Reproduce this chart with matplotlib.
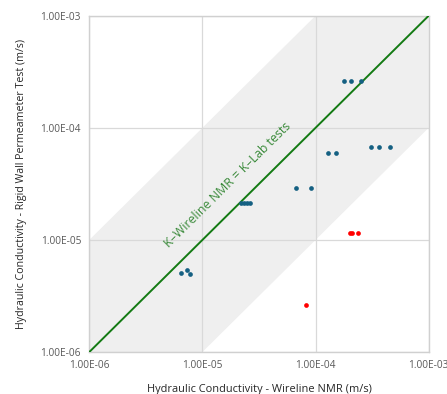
import matplotlib
matplotlib.use("Agg")
import matplotlib.pyplot as plt
from matplotlib.patches import Polygon

plt.rcParams['font.family'] = ['Open Sans', 'DejaVu Sans']

# Data (m/s)
blue_x = [1.79e-4, 2.05e-4, 2.51e-4,
          3.08e-4, 3.64e-4, 4.56e-4,
          1.29e-4, 1.51e-4,
          6.68e-5, 9.08e-5,
          2.19e-5, 2.33e-5, 2.48e-5, 2.64e-5,
          6.4e-6, 7.35e-6, 7.76e-6]
blue_y = [2.63e-4, 2.63e-4, 2.63e-4,
          6.78e-5, 6.78e-5, 6.78e-5,
          5.92e-5, 5.92e-5,
          2.92e-5, 2.92e-5,
          2.15e-5, 2.15e-5, 2.15e-5, 2.15e-5,
          5.07e-6, 5.42e-6, 5.0e-6]
red_x = [2.0e-4, 2.08e-4, 2.38e-4, 8.2e-5]
red_y = [1.15e-5, 1.15e-5, 1.15e-5, 2.62e-6]

ticks = [1e-6, 1e-5, 1e-4, 1e-3]
tick_labels = ["1.00E-06", "1.00E-05", "1.00E-04", "1.00E-03"]
one_to_one = [1e-6, 1e-3]
band_factor = 10.0

fig = plt.figure(figsize=(4.47, 3.94), dpi=100)
ax = fig.add_axes([0.1998, 0.1066, 0.7592, 0.8535])
ax.set_xscale('log')
ax.set_yscale('log')
ax.set_xlim(1e-6, 1e-3)
ax.set_ylim(1e-6, 1e-3)

lo, hi = one_to_one
band = Polygon([(lo, lo * band_factor), (hi / band_factor, hi), (hi, hi),
                (hi, hi / band_factor), (lo * band_factor, lo), (lo, lo)],
               closed=True, facecolor='#EFEFEF', edgecolor='none', zorder=0)
ax.add_patch(band)

ax.set_xticks(ticks)
ax.set_xticklabels(tick_labels)
ax.set_yticks(ticks)
ax.set_yticklabels(tick_labels)
ax.minorticks_off()
ax.tick_params(axis='both', length=0, labelsize=7.3, colors='#595959', pad=6)
ax.grid(True, color='#D9D9D9', linewidth=0.9, zorder=1)
ax.set_axisbelow(True)
for s in ax.spines.values():
    s.set_color('#D0D0D0')
    s.set_linewidth(1.0)

ax.plot(one_to_one, one_to_one, color='#137A13', linewidth=1.4, zorder=3)
ax.plot(blue_x, blue_y, 'o', color='#156082', markersize=3.4,
        markeredgewidth=0, zorder=4)
ax.plot(red_x, red_y, 'o', color='#FF0000', markersize=3.4,
        markeredgewidth=0, zorder=4)

ax.text(1.68e-5, 3.09e-5, "K\u2013Wireline NMR = K\u2013Lab tests", rotation=44.7,
        rotation_mode='anchor', ha='center', va='center', fontsize=8.9,
        color='#3A8A3A', zorder=5)

ax.set_xlabel("Hydraulic Conductivity - Wireline NMR (m/s)", fontsize=7.9,
              color='#262626', labelpad=9)
ax.set_ylabel("Hydraulic Conductivity - Rigid Wall Permeameter Test (m/s)",
              fontsize=7.7, color='#262626', labelpad=10)

fig.savefig("out.png", dpi=100)
